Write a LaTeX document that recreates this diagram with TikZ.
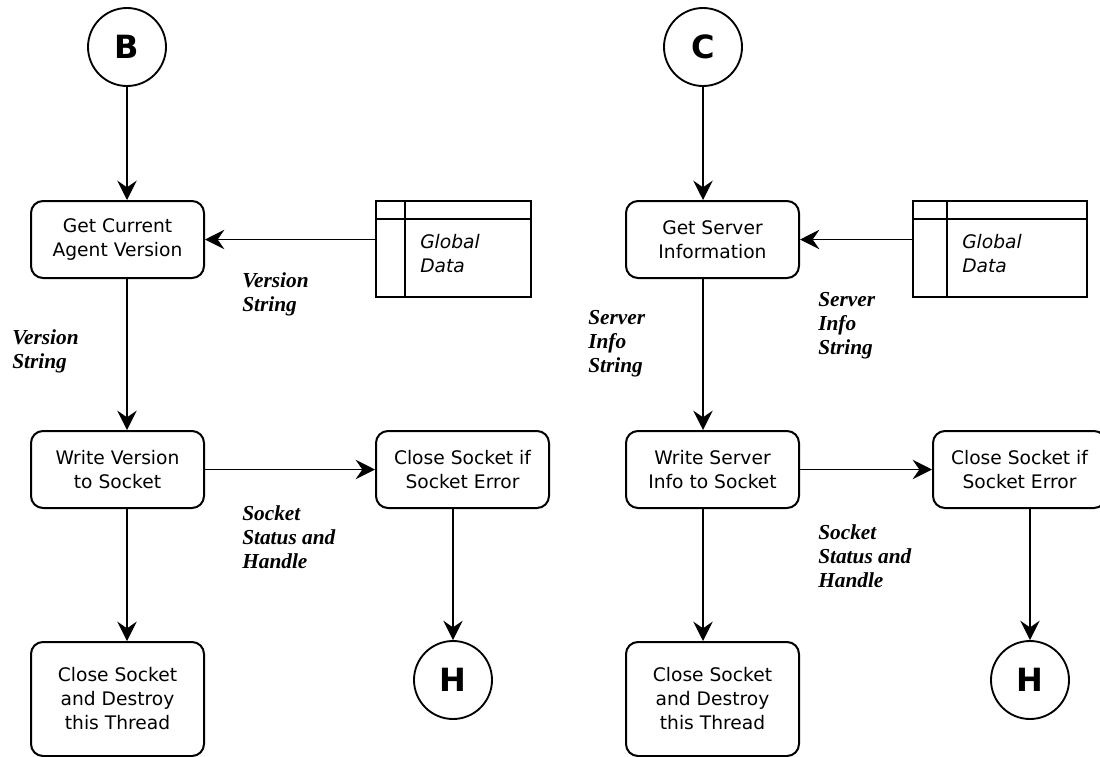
\documentclass[tikz,border=0pt]{standalone}
\usepackage{fontspec}
\setmainfont{DejaVu Sans}
\newfontfamily\flowlabelfont{Liberation Serif}
\usetikzlibrary{arrows.meta}
\begin{document}
\begin{tikzpicture}[x=0.75pt,y=-0.75pt,
  proc/.style={draw, line width=1.5pt, rounded corners=9pt,
    minimum width=129.75pt, minimum height=57.75pt, align=center,
    inner sep=0pt, font=\fontsize{14}{18}\selectfont},
  conn/.style={draw, circle, line width=1.4pt, minimum size=58.5pt,
    inner sep=0pt, font=\fontsize{24}{28}\selectfont\bfseries},
  store/.style={draw, line width=1.5pt, inner sep=0pt, minimum height=72pt},
  dtext/.style={anchor=west, align=left, inner sep=0pt,
    font=\fontsize{14}{18}\selectfont\itshape},
  flow/.style={line width=1.4pt, -{Stealth[length=14.5pt,width=14.5pt,inset=5pt]}},
  lbl/.style={anchor=west, align=left, inner sep=0pt,
    font=\flowlabelfont\fontsize{16}{18}\selectfont\bfseries\itshape}
]
\useasboundingbox (0,0) rectangle (1100,757);

% ---------------- left flow: agent version ----------------
\node[conn] (B) at (127,47) {B};
\node[proc] (G1) at (117.5,239.5) {Get Current\\Agent Version};
\node[store, minimum width=116.25pt] (S1) at (453.5,249) {};
\draw[line width=1.5pt] ([xshift=22.5pt]S1.north west) -- ([xshift=22.5pt]S1.south west);
\draw[line width=1.5pt] ([yshift=-14.25pt]S1.north west) -- ([yshift=-14.25pt]S1.north east);
\node[dtext] (S1t) at (420,254) {Global\\Data};
\node[proc] (W1) at (117.5,469.5) {Write Version\\to Socket};
\node[proc] (CS1) at (462.5,469.5) {Close Socket if\\Socket Error};
\node[proc, minimum height=85.5pt] (D1) at (117.5,699) {Close Socket\\and Destroy\\this Thread};
\node[conn] (H1) at (453,680) {H};

\draw[flow] (B.south) -- (B.south |- G1.north);
\draw[flow] (G1.east -| S1.west) -- (G1.east);
\draw[flow] (B.south |- G1.south) -- (B.south |- W1.north);
\draw[flow] (W1.east) -- (CS1.west);
\draw[flow] (B.south |- W1.south) -- (B.south |- D1.north);
\draw[flow] (H1.north |- CS1.south) -- (H1.north);

\node[lbl] (l1a) at (242,294) {Version\\String};
\node[lbl] (l1b) at (12,351.5) {Version\\String};
\node[lbl] (l1c) at (242,537) {Socket\\Status and\\Handle};

% ---------------- right flow: server information ----------------
\node[conn] (C) at (703,47) {C};
\node[proc] (G2) at (712.5,239.5) {Get Server\\Information};
\node[store, minimum width=130.5pt] (S2) at (1000,249) {};
\draw[line width=1.5pt] ([xshift=26.25pt]S2.north west) -- ([xshift=26.25pt]S2.south west);
\draw[line width=1.5pt] ([yshift=-14.25pt]S2.north west) -- ([yshift=-14.25pt]S2.north east);
\node[dtext] (S2t) at (962,254) {Global\\Data};
\node[proc] (W2) at (712.5,469.5) {Write Server\\Info to Socket};
\node[proc] (CS2) at (1019.5,469.5) {Close Socket if\\Socket Error};
\node[proc, minimum height=85.5pt] (D2) at (712.5,699) {Close Socket\\and Destroy\\this Thread};
\node[conn] (H2) at (1030,680) {H};

\draw[flow] (C.south) -- (C.south |- G2.north);
\draw[flow] (G2.east -| S2.west) -- (G2.east);
\draw[flow] (C.south |- G2.south) -- (C.south |- W2.north);
\draw[flow] (W2.east) -- (CS2.west);
\draw[flow] (C.south |- W2.south) -- (C.south |- D2.north);
\draw[flow] (H2.north |- CS2.south) -- (H2.north);

\node[lbl] (l2a) at (818,325.5) {Server\\Info\\String};
\node[lbl] (l2b) at (588,344) {Server\\Info\\String};
\node[lbl] (l2c) at (818,556) {Socket\\Status and\\Handle};
\end{tikzpicture}
\end{document}
